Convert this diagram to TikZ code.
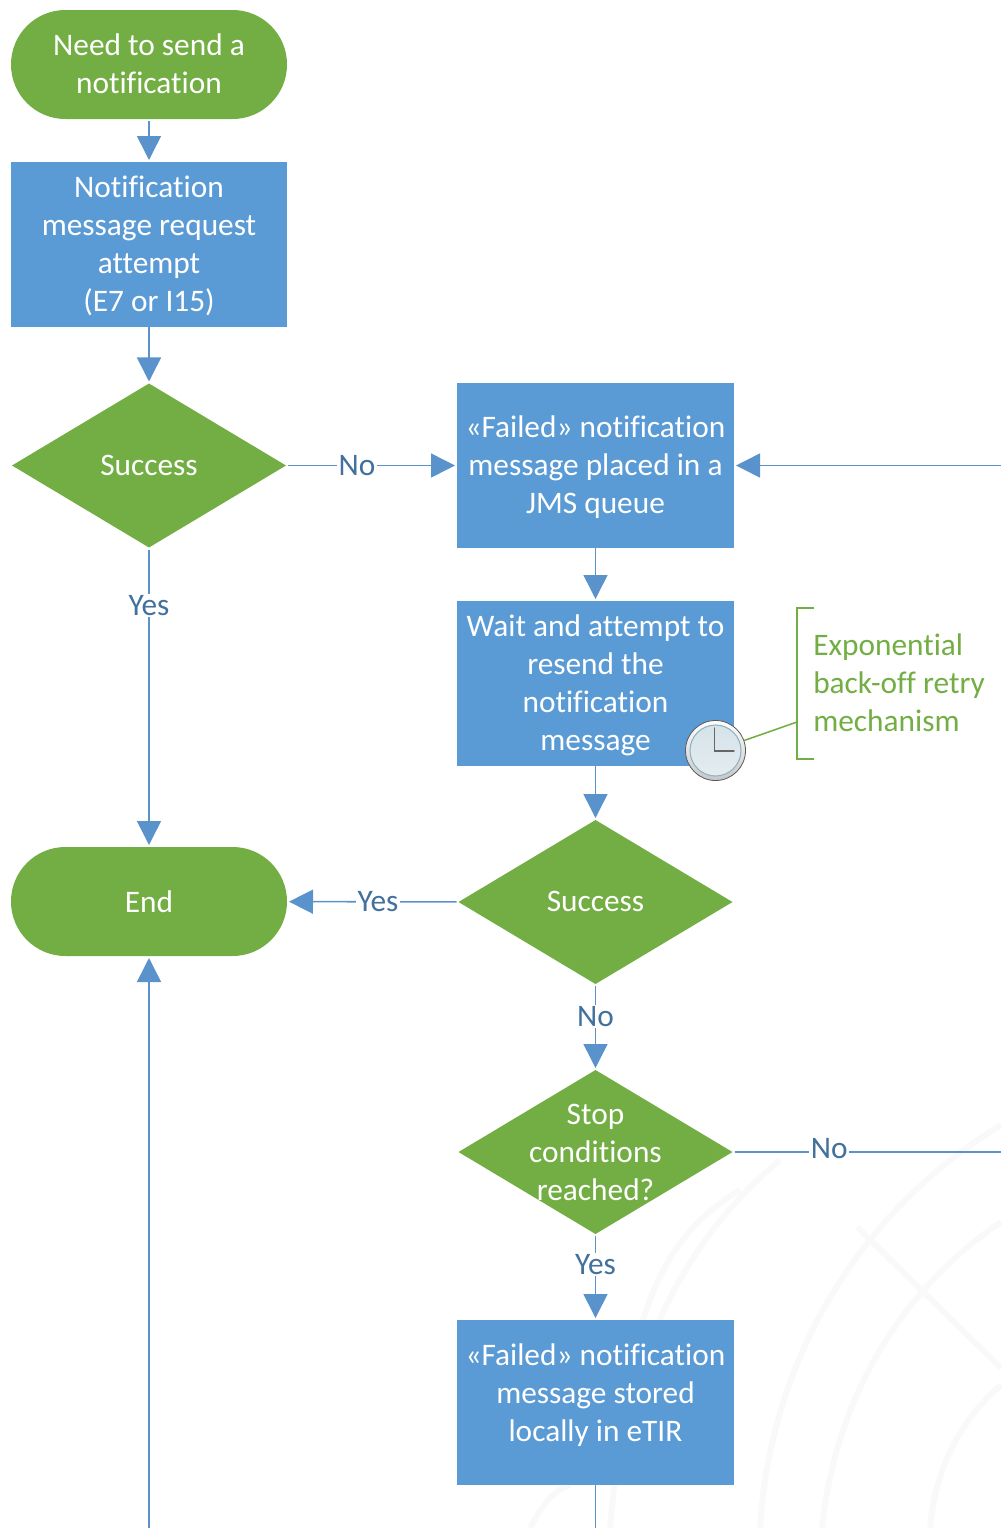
\documentclass[tikz,border=0pt]{standalone}
\usepackage{fontspec}
\setmainfont{Carlito}[Ligatures=NoCommon]
\usetikzlibrary{arrows.meta,shapes.geometric}
\definecolor{bluebox}{HTML}{5B9BD5}
\definecolor{greenbox}{HTML}{72AE43}
\definecolor{arrowblue}{HTML}{5A93CC}
\definecolor{labelblue}{HTML}{41719C}
\definecolor{wm}{HTML}{F9F9F9}
\definecolor{clockface}{HTML}{E4ECF0}
\definecolor{clockfacetop}{HTML}{D6E3EA}
\definecolor{clockrim}{HTML}{8FB3C2}
\def\uu{0.75pt}
\tikzset{
  base/.style={font=\fontsize{23.5}{28.5}\selectfont,text=white,inner sep=0pt,outer sep=0pt,align=center},
  terminal/.style={base,fill=greenbox,minimum width=276*\uu,minimum height=109*\uu,rounded corners=40.8pt},
  stepbox/.style={base,fill=bluebox,minimum width=277*\uu,minimum height=165*\uu},
  decision/.style={base,shape=diamond,fill=greenbox,minimum width=274*\uu,minimum height=164*\uu,aspect=1.67},
  dtext/.style={base},
  flow/.style={draw=arrowblue,line width=1.15pt,-{Triangle[length=18pt,width=18pt]},shorten >=1.5pt,shorten <=1.5pt},
  boxflow/.style={flow,shorten <=0pt},
  plainflow/.style={draw=arrowblue,line width=1.15pt,shorten <=1.5pt},
  lbl/.style={font=\fontsize{23.5}{28.5}\selectfont,text=labelblue,fill=white,inner sep=1pt,outer sep=0pt},
  note/.style={font=\fontsize{23.5}{28.5}\selectfont,text=greenbox,align=left,inner sep=0pt},
  wmark/.style={draw=wm,line width=4.5pt}
}
\begin{document}
\begin{tikzpicture}[x=0.75pt,y=-0.75pt]
\useasboundingbox (0,0) rectangle (1001,1528);
% watermark
\draw[wmark] (760,1528) .. controls (770,1360) and (860,1210) .. (1001,1125);
\draw[wmark] (822,1528) .. controls (835,1400) and (900,1290) .. (1001,1222);
\draw[wmark] (930,1528) .. controls (935,1470) and (960,1420) .. (1001,1385);
\draw[wmark] (857,1227) -- (1001,1368);
\draw[wmark] (610,1528) .. controls (620,1400) and (660,1260) .. (780,1160);
\draw[wmark] (530,1528) .. controls (545,1500) and (555,1490) .. (570,1485);
\draw[wmark] (640,1330) .. controls (660,1260) and (690,1220) .. (740,1190);
% nodes
\node[terminal] (start) at (149,64.5) {};
\node[dtext] (startT) at (149,63.5) {Need to send a\\notification};
\node[stepbox,minimum width=276*\uu] (box1) at (149,244.5) {};
\node[dtext] (box1T) at (149,246) {Notification\\message request\\attempt\\(E7 or I15)};
\node[decision] (dia1) at (149,465.5) {};
\node[dtext] (dia1t) at (149,465.5) {Success};
\node[stepbox] (box2) at (595.5,465.5) {};
\node[dtext] (box2T) at (595.5,467.5) {«Failed» notification\\message placed in a\\JMS queue};
\node[stepbox] (box3) at (595.5,683.5) {};
\node[dtext] (box3T) at (595.5,685.5) {Wait and attempt to\\resend the\\notification\\message};
\node[decision] (dia2) at (595.5,902) {};
\node[dtext] (dia2t) at (595.5,901.5) {Success};
\node[terminal] (end) at (149,901.5) {End};
\node[decision] (dia3) at (595.5,1152) {};
\node[dtext] (dia3t) at (595.5,1152.2) {Stop\\conditions\\reached?};
\node[stepbox] (box4) at (595.5,1402.5) {};
\node[dtext] (box4T) at (595.5,1395) {«Failed» notification\\message stored\\locally in eTIR};
\coordinate (r1) at (1001,465.5);
\coordinate (r2) at (1001,1152);
\coordinate (b1) at (149,1528);
\coordinate (b2) at (595.5,1528);
% connectors
\draw[flow] (start) -- (box1);
\draw[boxflow] (box1) -- (dia1);
\draw[flow] (dia1) -- node[lbl,pos=0.193] (l1) {Yes} (end);
\draw[flow] (dia1) -- node[lbl,pos=0.415] (l2) {No} (box2);
\draw[boxflow] (r1) -- (box2);
\draw[boxflow] (box2) -- (box3);
\draw[boxflow] (box3) -- (dia2);
\draw[flow] (dia2) -- node[lbl,pos=0.47] (l3) {Yes} (end);
\draw[flow] (dia2) -- node[lbl,pos=0.38] (l4) {No} (dia3);
\draw[plainflow] (dia3) -- node[lbl,pos=0.36,yshift=2.5pt] (l5) {No} (r2);
\draw[flow] (dia3) -- node[lbl,pos=0.36] (l6) {Yes} (box4);
\draw[boxflow] (b1) -- (end);
\draw[plainflow,shorten <=0pt] (box4) -- (b2);
% note
\coordinate (br1) at (814,608);
\coordinate (br2) at (797,608);
\coordinate (br3) at (797,759);
\coordinate (br4) at (814,759);
\coordinate (brm) at (797,722);
\draw[draw=greenbox,line width=1.15pt] (br1) -- (br2) -- (br3) -- (br4);
\node[note,anchor=west] (noteT) at (813,683) {Exponential\\back-off retry\\mechanism};
\node[circle,minimum size=60*\uu,inner sep=0pt,outer sep=0pt,draw=gray!70!black,line width=0.6pt,top color=white,bottom color=black!22] (clock) at (715.5,750.5) {};
\node[circle,minimum size=51*\uu,inner sep=0pt,draw=clockrim,line width=0.8pt,top color=clockfacetop,bottom color=clockface] (face) at (715.5,750.5) {};
\coordinate (ch1) at (714.5,728);
\coordinate (cc) at (714.5,751);
\coordinate (ch2) at (734,751);
\draw[line width=1.1pt,draw=black!60,line cap=round] (ch1) -- (cc) -- (ch2);
\draw[draw=greenbox,line width=1.15pt] (clock) -- (brm);
\end{tikzpicture}
\end{document}
